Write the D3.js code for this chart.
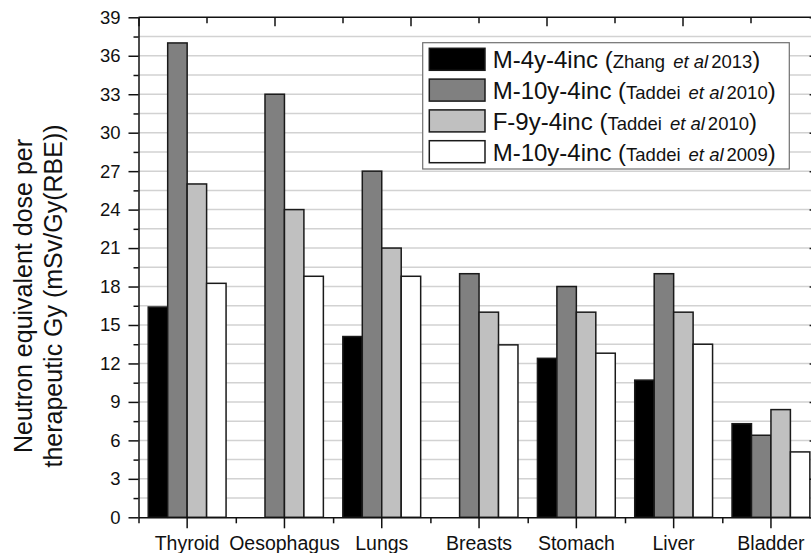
<!DOCTYPE html>
<html>
<head>
<meta charset="utf-8">
<script src="https://cdn.jsdelivr.net/npm/d3@7"></script>
<style>
	body { margin: 0; background: #fff; }
	text { font-family: Arial, "Liberation Sans", sans-serif; fill: #111; }
</style>
</head>
<body>
<script>
// values (mSv/Gy(RBE)), one array per series
var organs = ["Thyroid", "Oesophagus", "Lungs", "Breasts", "Stomach", "Liver", "Bladder"];
var zhang2013 = [16.4, 0, 14.1, 0, 12.4, 10.7, 7.3];
var taddeiM2010 = [37, 33, 27, 19, 18, 19, 6.4];
var taddeiF2010 = [26, 24, 21, 16, 16, 16, 8.4];
var taddeiM2009 = [18.25, 18.8, 18.8, 13.45, 12.8, 13.5, 5.1];
var seriesNames = ["M-4y-4inc", "M-10y-4inc", "F-9y-4inc", "M-10y-4inc"];
var seriesAuthors = ["Zhang", "Taddei", "Taddei", "Taddei"];
var seriesYears = ["2013", "2010", "2010", "2009"];
var yTicks = [0, 3, 6, 9, 12, 15, 18, 21, 24, 27, 30, 33, 36, 39];

var series = [zhang2013, taddeiM2010, taddeiF2010, taddeiM2009];

var width = 811, height = 553;
var plotLeft = 138.5, plotTop = 17.3, plotBottom = 517.3, step = 97.3;
var plotRight = plotLeft + step * organs.length;

var svg = d3.select("body").append("svg")
	.attr("width", width)
	.attr("height", height);

var x = d3.scaleBand()
	.domain(organs)
	.range([plotLeft, plotRight])
	.paddingInner(0.2)
	.paddingOuter(0.1);

var xs = d3.scaleBand()
	.domain(d3.range(series.length))
	.range([0, x.bandwidth()]);

var y = d3.scaleLinear()
	.domain([0, 39])
	.range([plotBottom, plotTop]);

var color = d3.scaleOrdinal()
	.domain(d3.range(series.length))
	.range(["#000000", "#808080", "#c0c0c0", "#ffffff"]);

// half-step values used for the minor ticks and the grid
var halfTicks = d3.range(1.5, 39, 1.5);
var oddHalf = halfTicks.filter(function(d) { return d % 3 !== 0; });

// grid
svg.append("g").selectAll("line")
	.data(halfTicks)
	.enter().append("line")
	.attr("x1", plotLeft)
	.attr("x2", plotRight)
	.attr("y1", function(d) { return y(d); })
	.attr("y2", function(d) { return y(d); })
	.attr("stroke", "#d2d2d2")
	.attr("stroke-width", 1.5);

// bars
var groups = svg.append("g").selectAll("g")
	.data(organs)
	.enter().append("g")
	.attr("transform", function(d) { return "translate(" + x(d) + ",0)"; });

groups.selectAll("rect")
	.data(function(d, i) {
		return series.map(function(s, k) { return { k: k, v: s[i] }; })
			.filter(function(e) { return e.v > 0; });
	})
	.enter().append("rect")
	.attr("x", function(e) { return xs(e.k); })
	.attr("width", xs.bandwidth())
	.attr("y", function(e) { return y(e.v); })
	.attr("height", function(e) { return plotBottom - y(e.v); })
	.attr("fill", function(e) { return color(e.k); })
	.attr("stroke", "#1a1a1a")
	.attr("stroke-width", 1.5);

// legend
var lg = svg.append("g");
lg.append("rect")
	.attr("x", 422.7).attr("y", 42.7)
	.attr("width", 366.6).attr("height", 126.3)
	.attr("fill", "#fff")
	.attr("stroke", "#707070")
	.attr("stroke-width", 1.2);

var rows = lg.selectAll("g.row")
	.data(seriesNames)
	.enter().append("g")
	.attr("class", "row")
	.attr("transform", function(d, i) { return "translate(429.3," + (48.3 + i * 30.8) + ")"; });

rows.append("rect")
	.attr("width", 55.7)
	.attr("height", 22)
	.attr("fill", function(d, i) { return color(i); })
	.attr("stroke", "#1a1a1a")
	.attr("stroke-width", 1.5);

var lt = rows.append("text")
	.attr("x", 63.4)
	.attr("y", 20)
	.style("font-size", "24px");
lt.append("tspan").text(function(d) { return d + " ("; });
lt.append("tspan").style("font-size", "18.5px").text(function(d, i) { return seriesAuthors[i]; });
lt.append("tspan").style("font-size", "18.5px").style("font-style", "italic").attr("dx", 8).text("et al");
lt.append("tspan").style("font-size", "18.5px").attr("dx", 3).text(function(d, i) { return seriesYears[i]; });
lt.append("tspan").text(")");

// axes
function styleAxis(g) {
	g.select(".domain").attr("stroke", "#111").attr("stroke-width", 1.5);
	g.selectAll(".tick line").attr("stroke", "#111").attr("stroke-width", 1.5);
}

var gl = svg.append("g").attr("transform", "translate(" + plotLeft + ",0)");
gl.call(d3.axisLeft(y).tickValues(yTicks).tickSize(10).tickSizeOuter(0).tickPadding(8).tickFormat(d3.format("d")));
gl.append("g").call(d3.axisLeft(y).tickValues(oddHalf).tickSize(5).tickSizeOuter(0).tickFormat(""))
	.select(".domain").remove();
gl.selectAll("text").style("font-size", "18.5px").attr("fill", "#111");
styleAxis(gl);

var gr = svg.append("g").attr("transform", "translate(" + plotRight + ",0)");
gr.call(d3.axisRight(y).tickValues(yTicks).tickSize(-10).tickSizeOuter(0).tickFormat(""));
styleAxis(gr);

var gb = svg.append("g").attr("transform", "translate(0," + plotBottom + ")");
gb.call(d3.axisBottom(x).tickSize(11).tickSizeOuter(0).tickPadding(8));
gb.selectAll("text").style("font-size", "19.5px").attr("fill", "#111");
var xEdge = d3.scaleLinear().domain([0, organs.length]).range([plotLeft, plotRight]);
gb.append("g").call(d3.axisBottom(xEdge).tickValues(d3.range(organs.length + 1)).tickSize(6).tickFormat(""))
	.select(".domain").remove();
styleAxis(gb);

var xTop = d3.scaleLinear().domain([0, 10]).range([plotLeft, plotLeft + 680]);
var gt = svg.append("g").attr("transform", "translate(0," + plotTop + ")");
gt.call(d3.axisTop(xTop).tickValues([0, 2, 4, 6, 8, 10]).tickSize(-9).tickSizeOuter(0).tickFormat(""));
gt.append("g").call(d3.axisTop(xTop).tickValues([1, 3, 5, 7, 9]).tickSize(-6).tickFormat(""))
	.select(".domain").remove();
gt.select(".domain").attr("d", "M" + plotLeft + ",0H" + plotRight);
styleAxis(gt);

// y title
var titleLines = ["Neutron equivalent dose per", "therapeutic Gy (mSv/Gy(RBE))"];
svg.append("g").selectAll("text")
	.data(titleLines)
	.enter().append("text")
	.attr("transform", function(d, i) { return "translate(" + (31.7 + i * 30) + ",296) rotate(-90)"; })
	.attr("text-anchor", "middle")
	.style("font-size", "25px")
	.text(function(d) { return d; });
</script>
</body>
</html>
